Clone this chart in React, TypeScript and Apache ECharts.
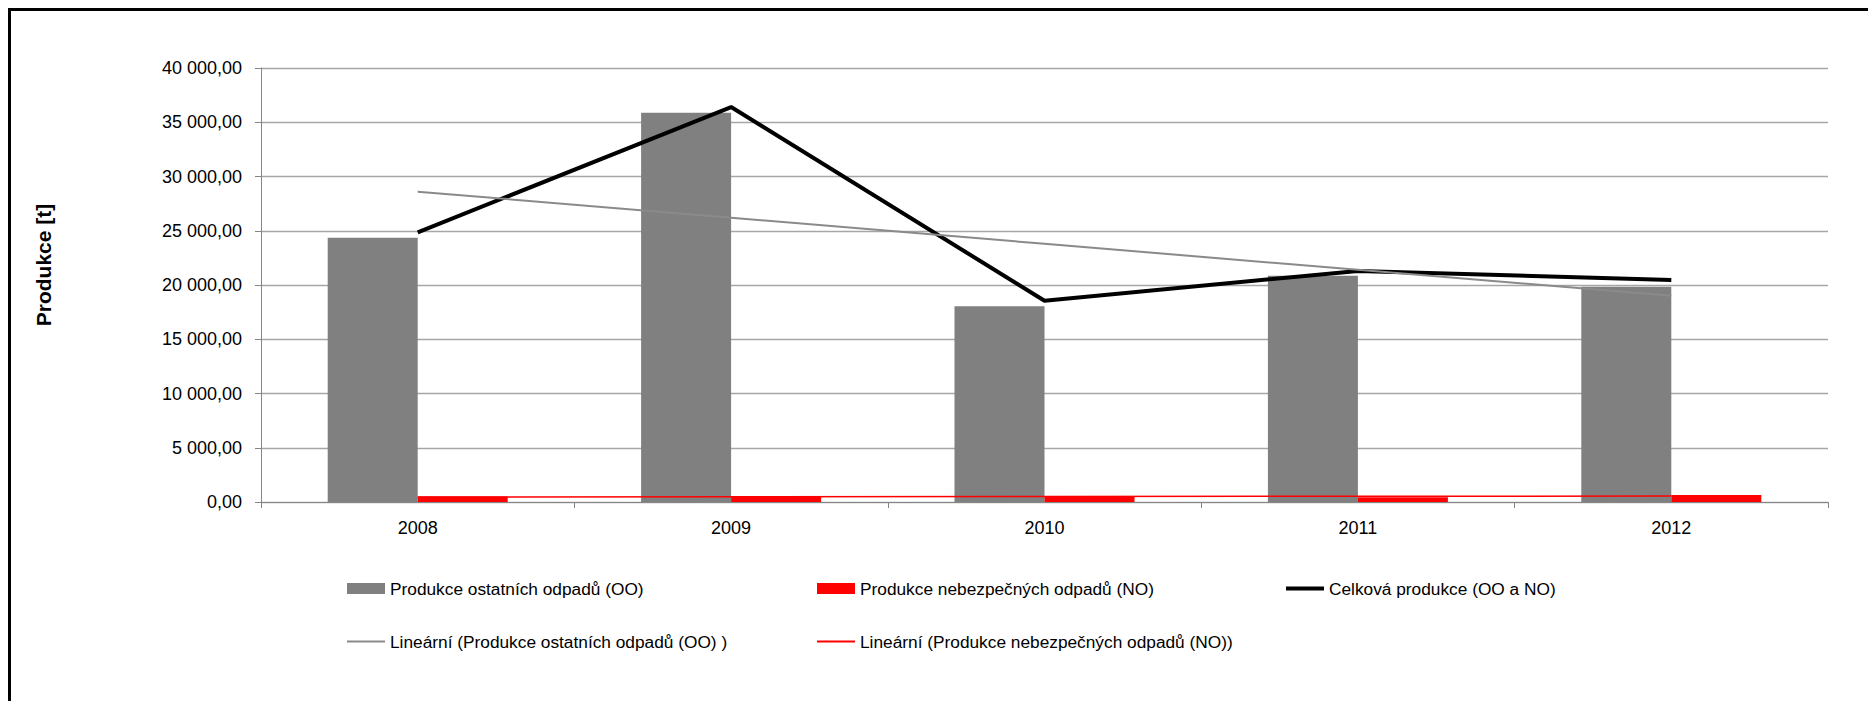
import React, { useEffect, useRef } from "react";
import * as echarts from "echarts";

const years = ["2008", "2009", "2010", "2011", "2012"];
const ostatniOdpady = [24350, 35870, 18050, 20860, 19850];
const nebezpecneOdpady = [500, 490, 480, 430, 640];
const celkovaProdukce = [24850, 36400, 18550, 21300, 20450];
const trendOstatni = [28600, 26200, 23800, 21400, 19000];
const trendNebezpecne = [465, 485, 510, 530, 550];
const yMin = 0;
const yMax = 40000;
const yInterval = 5000;

const seriesNames = [
  "Produkce ostatních odpadů (OO)",
  "Produkce nebezpečných odpadů (NO)",
  "Celková produkce (OO a NO)",
  "Lineární (Produkce ostatních odpadů (OO) )",
  "Lineární (Produkce nebezpečných odpadů (NO))",
];

const FONT = "'Liberation Sans', Arial, sans-serif";

function fmt(v: number): string {
  const [i, d] = v.toFixed(2).split(".");
  return i.replace(/\B(?=(\d{3})+(?!\d))/g, " ") + "," + d;
}

export default function App() {
  const ref = useRef<HTMLDivElement>(null);

  useEffect(() => {
    if (!ref.current) return;
    const chart = echarts.init(ref.current, undefined, { renderer: "svg" });
    const legendBase = {
      orient: "horizontal" as const,
      padding: 0,
      itemGap: 0,
      itemWidth: 38,
      itemHeight: 11,
      textStyle: { fontFamily: FONT, fontSize: 17.3, color: "#000" },
      selectedMode: false,
    };
    chart.setOption({
      animation: false,
      backgroundColor: "#fff",
      grid: { left: 250, top: 57, width: 1567, height: 434, containLabel: false },
      legend: [
        { ...legendBase, left: 336, top: 569, data: [{ name: seriesNames[0], icon: "rect" }] },
        { ...legendBase, left: 806, top: 569, data: [{ name: seriesNames[1], icon: "rect" }] },
        { ...legendBase, left: 1275, top: 569, itemHeight: 4, data: [{ name: seriesNames[2], icon: "rect" }] },
        { ...legendBase, left: 336, top: 622, itemHeight: 2, data: [{ name: seriesNames[3], icon: "rect" }] },
        { ...legendBase, left: 806, top: 622, itemHeight: 2, data: [{ name: seriesNames[4], icon: "rect" }] },
      ],
      graphic: [
        {
          type: "text",
          x: 32,
          y: 254,
          rotation: Math.PI / 2,
          style: {
            text: "Produkce [t]",
            font: `bold 21px ${FONT}`,
            fill: "#000",
            align: "center",
            verticalAlign: "middle",
          },
        },
      ],
      xAxis: {
        type: "category",
        data: years,
        boundaryGap: true,
        axisLine: { show: true, lineStyle: { color: "#868686", width: 1 } },
        axisTick: { show: true, length: 6, alignWithLabel: false, lineStyle: { color: "#868686" } },
        axisLabel: { fontFamily: FONT, fontSize: 18, color: "#000", margin: 17 },
        splitLine: { show: false },
      },
      yAxis: {
        type: "value",
        min: yMin,
        max: yMax,
        interval: yInterval,
        axisLine: { show: true, lineStyle: { color: "#868686", width: 1 } },
        axisTick: { show: true, length: 6, lineStyle: { color: "#868686" } },
        axisLabel: {
          fontFamily: FONT,
          fontSize: 18,
          color: "#000",
          margin: 19,
          formatter: (v: number) => fmt(v),
        },
        splitLine: { show: true, lineStyle: { color: "#a6a6a6", width: 1.3 } },
      },
      series: [
        {
          name: seriesNames[0],
          type: "bar",
          data: ostatniOdpady,
          barWidth: 90,
          barGap: "0%",
          itemStyle: { color: "#808080" },
        },
        {
          name: seriesNames[1],
          type: "bar",
          data: nebezpecneOdpady,
          barWidth: 90,
          barGap: "0%",
          itemStyle: { color: "#ff0000" },
        },
        {
          name: seriesNames[2],
          type: "line",
          data: celkovaProdukce,
          symbol: "none",
          lineStyle: { color: "#000", width: 4 },
          itemStyle: { color: "#000" },
        },
        {
          name: seriesNames[3],
          type: "line",
          data: trendOstatni,
          symbol: "none",
          lineStyle: { color: "#8a8a8a", width: 2 },
          itemStyle: { color: "#8a8a8a" },
        },
        {
          name: seriesNames[4],
          type: "line",
          data: trendNebezpecne,
          symbol: "none",
          lineStyle: { color: "#ff0000", width: 1.5 },
          itemStyle: { color: "#ff0000" },
        },
      ],
    });
    return () => chart.dispose();
  }, []);

  return (
    <div
      style={{
        borderLeft: "3px solid #000",
        borderTop: "3px solid #000",
        width: 1857,
        height: 690,
      }}
    >
      <div ref={ref} style={{ width: 1857, height: 690 }} />
    </div>
  );
}
